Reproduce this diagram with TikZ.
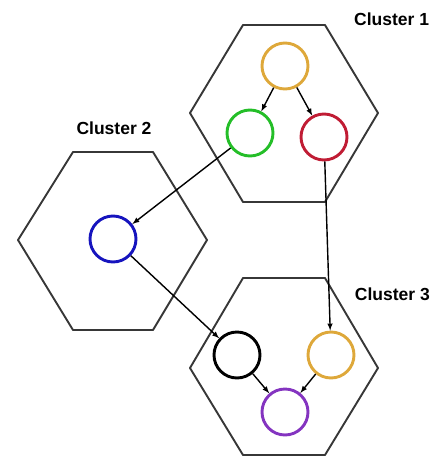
\documentclass[tikz,border=0pt]{standalone}
\usepackage{fontspec}
\setmainfont{Liberation Sans}
\definecolor{ringgold}{RGB}{222,168,58}
\definecolor{ringgreen}{RGB}{36,190,40}
\definecolor{ringred}{RGB}{192,28,52}
\definecolor{ringblue}{RGB}{22,20,190}
\definecolor{ringpurple}{RGB}{132,52,192}
\definecolor{hexgray}{RGB}{55,55,55}
\tikzset{
  hexline/.style={draw=hexgray, line width=1.9pt, line join=round},
  member/.style={circle, draw, fill=white, line width=2.9pt, minimum size=46pt, inner sep=0pt},
  link/.style={->, line width=1.4pt, black},
  tag/.style={font=\bfseries\fontsize{17.5}{19}\selectfont, inner sep=0pt}
}
\begin{document}
\begin{tikzpicture}[x=1pt, y=-1pt, >=latex]
  \useasboundingbox (0,0) rectangle (432,459);
  % the three clusters
  \draw[hexline] (243,25) -- (325,25) -- (378,113) -- (325,202) -- (243,202) -- (190,113) -- cycle;
  \draw[hexline] (73,152) -- (153,152) -- (207,240) -- (153,330) -- (73,330) -- (18,240) -- cycle;
  \draw[hexline] (243,278) -- (325,278) -- (378,368) -- (325,455) -- (243,455) -- (190,368) -- cycle;
  \node[tag, anchor=west] (tag1) at (354,19) {Cluster 1};
  \node[tag] (tag2) at (114,128) {Cluster 2};
  \node[tag, anchor=east] (tag3) at (430,294) {Cluster 3};
  % members
  \node[member, draw=ringgold] (gold1) at (285,66) {};
  \node[member, draw=ringgreen] (green1) at (250,133) {};
  \node[member, draw=ringred] (red1) at (324,137) {};
  \node[member, draw=ringblue] (blue2) at (113,239) {};
  \node[member, draw=black] (black3) at (237,355) {};
  \node[member, draw=ringgold] (gold3) at (331,355) {};
  \node[member, draw=ringpurple] (purple3) at (285,412) {};
  % links
  \draw[link] (gold1) -- (green1);
  \draw[link] (gold1) -- (red1);
  \draw[link] (green1) -- (blue2);
  \draw[link] (red1) -- (gold3);
  \draw[link] (blue2) -- (black3);
  \draw[link] (black3) -- (purple3);
  \draw[link] (gold3) -- (purple3);
\end{tikzpicture}
\end{document}
